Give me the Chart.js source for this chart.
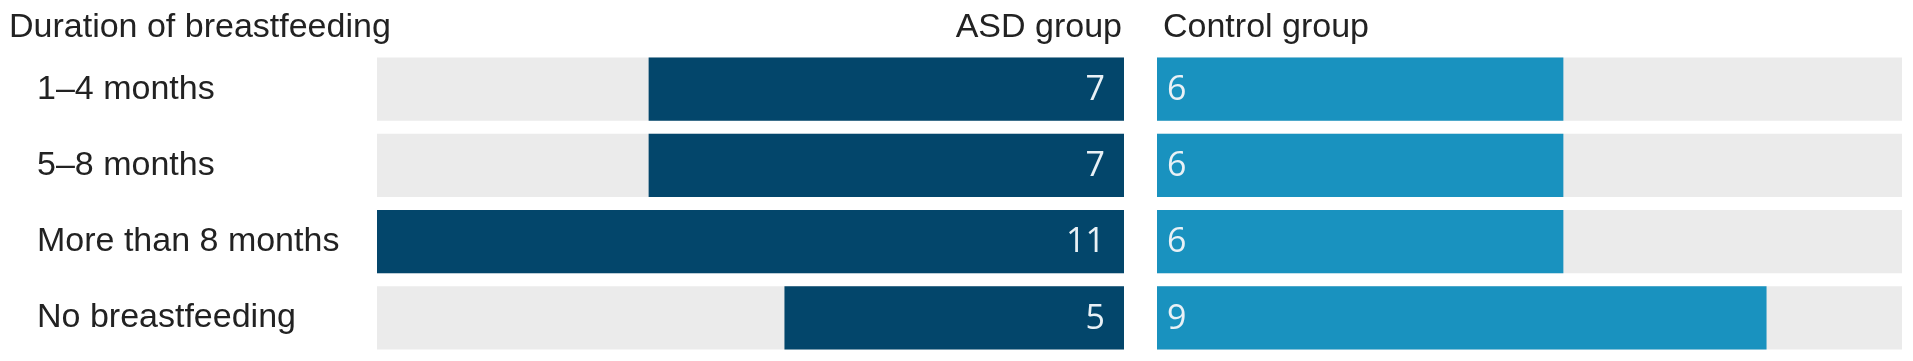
<!DOCTYPE html>
<html>
<head>
<meta charset="utf-8">
<script src="https://cdn.jsdelivr.net/npm/chart.js@4"></script>
<style>
  html, body { margin: 0; padding: 0; background: #fff; }
  body { width: 1913px; height: 361px; position: relative; overflow: hidden; }
  .pane { position: absolute; top: 0; height: 361px; }
  #asdPane { left: 0; width: 1124px; }
  #ctrlPane { left: 1124px; width: 789px; }
</style>
</head>
<body>
<div class="pane" id="asdPane"><canvas id="asdChart"></canvas></div>
<div class="pane" id="ctrlPane"><canvas id="ctrlChart"></canvas></div>
<script>
const durations = ["1–4 months", "5–8 months", "More than 8 months", "No breastfeeding"];
const asdCounts = [7, 7, 11, 5];
const controlCounts = [6, 6, 6, 9];
const trackMax = [11, 11, 11, 11];

const headers = {
  category: "Duration of breastfeeding",
  asd: "ASD group",
  control: "Control group"
};

const TEXT_FONT = "'Liberation Sans', Arial, sans-serif";
const VALUE_FONT = "'Open Sans', sans-serif";

// writes the counts inside the bars and the header line
const barText = {
  id: "barText",
  afterDatasetsDraw(chart, args, opts) {
    const ctx = chart.ctx;
    const meta = chart.getDatasetMeta(0);
    ctx.save();
    ctx.font = "34px " + VALUE_FONT;
    ctx.fillStyle = "#e9f1f6";
    ctx.textBaseline = "middle";
    meta.data.forEach((bar, i) => {
      const v = chart.data.datasets[0].data[i];
      if (opts.side === "left") {
        ctx.textAlign = "right";
        ctx.fillText(v, bar.base - 19, bar.y + 1);
      } else {
        ctx.textAlign = "left";
        ctx.fillText(v, bar.base + 10, bar.y + 1);
      }
    });
    ctx.font = "34px " + TEXT_FONT;
    ctx.fillStyle = "#222";
    ctx.textBaseline = "alphabetic";
    const area = chart.chartArea;
    if (opts.side === "left") {
      ctx.textAlign = "left";
      ctx.fillText(headers.category, 9, 37);
      ctx.textAlign = "right";
      ctx.fillText(headers.asd, area.right - 2, 37);
    } else {
      ctx.textAlign = "left";
      ctx.fillText(headers.control, area.left + 6, 37);
    }
    ctx.restore();
  }
};

function makeChart(canvas, values, color, side) {
  const yAxis = side === "left"
    ? {
        grid: { display: false },
        border: { display: false },
        ticks: {
          crossAlign: "far",
          color: "#222",
          font: { family: TEXT_FONT, size: 34 }
        },
        afterFit(axis) {
          axis.width = 340;
          axis.paddingTop = 0;
          axis.paddingBottom = 0;
        }
      }
    : { display: false };

  return new Chart(canvas, {
    type: "bar",
    data: {
      labels: durations,
      datasets: [
        {
          data: values,
          backgroundColor: color,
          order: 0,
          grouped: false,
          barPercentage: 1,
          categoryPercentage: 0.83
        },
        {
          data: trackMax,
          backgroundColor: "#ebebeb",
          order: 1,
          grouped: false,
          barPercentage: 1,
          categoryPercentage: 0.83
        }
      ]
    },
    options: {
      indexAxis: "y",
      responsive: true,
      maintainAspectRatio: false,
      animation: false,
      layout: {
        padding: side === "left"
          ? { left: 37, right: 0, top: 51, bottom: 5 }
          : { left: 33, right: 11, top: 51, bottom: 5 }
      },
      scales: {
        x: {
          display: false,
          min: 0,
          max: 11,
          reverse: side === "left"
        },
        y: yAxis
      },
      plugins: {
        legend: { display: false },
        tooltip: { enabled: false },
        barText: { side: side }
      }
    },
    plugins: [barText]
  });
}

makeChart(document.getElementById("asdChart"), asdCounts, "#03466b", "left");
makeChart(document.getElementById("ctrlChart"), controlCounts, "#1992bf", "right");
</script>
</body>
</html>
